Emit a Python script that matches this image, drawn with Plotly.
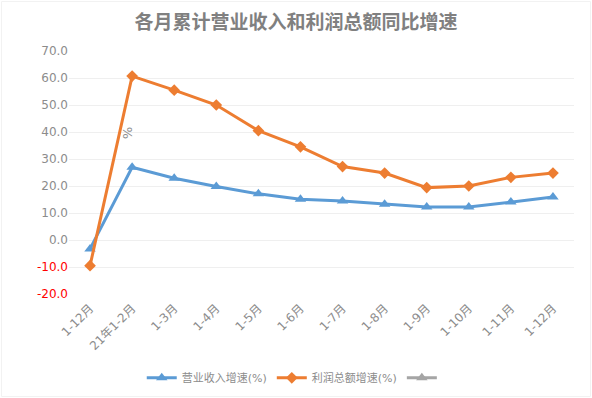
import plotly.graph_objects as go

categories = ["1-12月", "21年1-2月", "1-3月", "1-4月", "1-5月", "1-6月",
              "1-7月", "1-8月", "1-9月", "1-10月", "1-11月", "1-12月"]
x_idx = list(range(len(categories)))
revenue_growth = [-3.3, 26.9, 22.9, 19.8, 17.1, 15.1, 14.4, 13.2, 12.2, 12.2, 14.1, 15.9]
profit_growth = [-9.5, 60.7, 55.5, 50.0, 40.5, 34.5, 27.2, 24.8, 19.4, 20.0, 23.2, 24.8]
y_ticks = [70, 60, 50, 40, 30, 20, 10, 0, -10, -20]

BLUE = "#5b9bd5"
ORANGE = "#ed7d31"
GREY = "#a5a5a5"
TXT = "#8c8c8c"
FONT = "DejaVu Sans, Noto Sans CJK SC, sans-serif"

W, H = 592, 398
ML, MR, MT, MB = 69, 18, 51, 104
PW, PH = W - ML - MR, H - MT - MB

tick_text = [f'<span style="color:#ff0000">{v:.1f}</span>' if v < 0 else f"{v:.1f}" for v in y_ticks]

fig = go.Figure()
fig.add_trace(go.Scatter(x=x_idx, y=revenue_growth, mode="lines+markers", name="营业收入增速(%)",
                         line=dict(color=BLUE, width=3),
                         marker=dict(symbol="triangle-up", size=10, color=BLUE)))
fig.add_trace(go.Scatter(x=x_idx, y=profit_growth, mode="lines+markers", name="利润总额增速(%)",
                         line=dict(color=ORANGE, width=3),
                         marker=dict(symbol="diamond", size=9, color=ORANGE)))
fig.add_trace(go.Scatter(x=[None], y=[None], mode="lines+markers", name=" ",
                         line=dict(color=GREY, width=3),
                         marker=dict(symbol="triangle-up", size=10, color=GREY)))

fig.add_annotation(x=0.88, y=39.7, xref="x", yref="y", text="%", showarrow=False,
                   textangle=90, font=dict(size=13, color=TXT, family=FONT))

# faint chart border
fig.add_shape(type="rect", xref="paper", yref="paper",
              x0=-(ML - 1.5) / PW, x1=1 + (MR - 1.5) / PW,
              y0=-(MB - 1.5) / PH, y1=1 + (MT - 1.5) / PH,
              line=dict(color="#f2f2f2", width=1), layer="below")

fig.update_layout(
    width=W, height=H,
    paper_bgcolor="white", plot_bgcolor="white",
    margin=dict(l=ML, r=MR, t=MT, b=MB, autoexpand=False),
    font=dict(family=FONT, color=TXT, size=12),
    title=dict(text="<b>各月累计营业收入和利润总额同比增速</b>", x=0.5, xanchor="center",
               y=0.945, yanchor="middle",
               font=dict(size=19, color="#808080", family="Noto Sans CJK SC, sans-serif")),
    showlegend=True,
    legend=dict(orientation="h", x=0.45, xanchor="center", y=-0.345, yanchor="middle",
                font=dict(size=11, color=TXT, family=FONT), itemwidth=30,
                tracegroupgap=0, bgcolor="rgba(0,0,0,0)"),
    xaxis=dict(range=[-0.5, 11.5], tickmode="array", tickvals=x_idx, ticktext=categories,
               tickangle=-45, showgrid=False, showline=False, zeroline=False, automargin=False,
               ticklabelstandoff=4,
               tickfont=dict(size=12, color=TXT, family=FONT), ticks=""),
    yaxis=dict(range=[-20, 70], tickmode="array", tickvals=y_ticks, ticktext=tick_text,
               showgrid=True, gridcolor="#efefef", gridwidth=1, zeroline=False, showline=False,
               automargin=False,
               tickfont=dict(size=12, color=TXT, family=FONT), ticks=""),
)

fig.write_html("out.html", config={"displayModeBar": False},
               post_script="document.body.style.margin='0';")
